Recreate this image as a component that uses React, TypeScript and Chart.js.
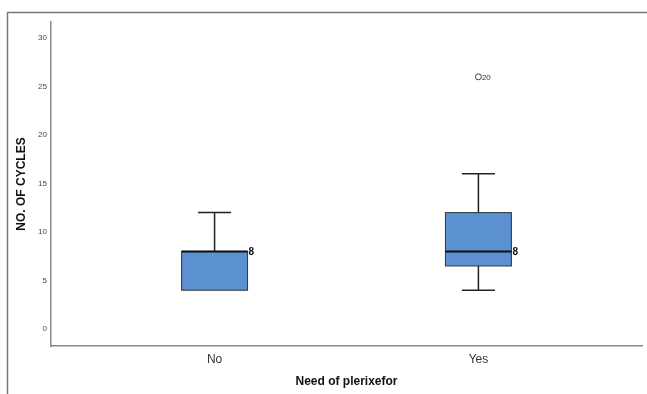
import React, { useEffect, useRef } from 'react';
import { Chart, registerables } from 'chart.js';

Chart.register(...registerables);

const categories = ['No', 'Yes'];
const whiskerLow = [4, 4];
const q1 = [4, 6.5];
const median = [8, 8];
const q3 = [8, 12];
const whiskerHigh = [12, 16];
const medianLabels = ['8', '8'];
const outlierCategory = [1];
const outlierValues = [26];
const outlierLabels = ['20'];
const yTicks = [0, 5, 10, 15, 20, 25, 30];

const FONT = '"Liberation Sans", Arial, sans-serif';

const framePlugin = {
  id: 'frame',
  beforeDraw(chart: any) {
    const ctx = chart.ctx;
    ctx.save();
    ctx.fillStyle = '#ffffff';
    ctx.fillRect(0, 0, chart.width, chart.height);
    ctx.strokeStyle = '#777777';
    ctx.lineWidth = 1.5;
    ctx.beginPath();
    ctx.moveTo(7.5, chart.height);
    ctx.lineTo(7.5, 12.5);
    ctx.lineTo(chart.width, 12.5);
    ctx.stroke();
    ctx.restore();
  },
};

const boxPlugin = {
  id: 'boxes',
  afterDatasetsDraw(chart: any) {
    const ctx = chart.ctx;
    const xs = chart.scales.x;
    const ys = chart.scales.y;
    const spacing = xs.getPixelForValue(1) - xs.getPixelForValue(0);
    const boxW = spacing * 0.25;
    const capW = spacing * 0.125;
    ctx.save();
    categories.forEach((_c, i) => {
      const cx = xs.getPixelForValue(i);
      const yLo = ys.getPixelForValue(whiskerLow[i]);
      const yQ1 = ys.getPixelForValue(q1[i]);
      const yMed = ys.getPixelForValue(median[i]);
      const yQ3 = ys.getPixelForValue(q3[i]);
      const yHi = ys.getPixelForValue(whiskerHigh[i]);
      ctx.strokeStyle = '#222222';
      ctx.lineWidth = 1.5;
      ctx.beginPath();
      if (whiskerHigh[i] > q3[i]) {
        ctx.moveTo(cx, yQ3);
        ctx.lineTo(cx, yHi);
        ctx.moveTo(cx - capW / 2, yHi);
        ctx.lineTo(cx + capW / 2, yHi);
      }
      if (whiskerLow[i] < q1[i]) {
        ctx.moveTo(cx, yQ1);
        ctx.lineTo(cx, yLo);
        ctx.moveTo(cx - capW / 2, yLo);
        ctx.lineTo(cx + capW / 2, yLo);
      }
      ctx.stroke();
      ctx.fillStyle = '#5b90d1';
      ctx.fillRect(cx - boxW / 2, yQ3, boxW, yQ1 - yQ3);
      ctx.lineWidth = 1;
      ctx.strokeStyle = '#333333';
      ctx.strokeRect(cx - boxW / 2, yQ3, boxW, yQ1 - yQ3);
      ctx.lineWidth = 2;
      ctx.strokeStyle = '#111111';
      ctx.beginPath();
      ctx.moveTo(cx - boxW / 2, yMed);
      ctx.lineTo(cx + boxW / 2, yMed);
      ctx.stroke();
      ctx.fillStyle = '#111111';
      ctx.font = 'bold 10px ' + FONT;
      ctx.textAlign = 'left';
      ctx.textBaseline = 'middle';
      ctx.fillText(medianLabels[i], cx + boxW / 2 + 1, yMed + 1);
    });
    const meta = chart.getDatasetMeta(0);
    ctx.font = '8px ' + FONT;
    ctx.fillStyle = '#333333';
    ctx.textAlign = 'left';
    ctx.textBaseline = 'middle';
    meta.data.forEach((pt: any, k: number) => {
      ctx.fillText(outlierLabels[k], pt.x + 3.5, pt.y + 0.5);
    });
    ctx.restore();
  },
};

export default function App() {
  const ref = useRef<HTMLCanvasElement | null>(null);
  useEffect(() => {
    if (!ref.current) return;
    const chart = new Chart(ref.current, {
      type: 'scatter',
      data: {
        datasets: [
          {
            data: outlierValues.map((v, k) => ({ x: outlierCategory[k], y: v })),
            pointRadius: 3,
            pointBorderWidth: 1,
            borderColor: '#444444',
            backgroundColor: '#ffffff',
          },
        ],
      },
      options: {
        responsive: false,
        animation: false,
        events: [],
        layout: { padding: { left: 0, top: 22, right: 5, bottom: 0 } },
        plugins: { legend: { display: false }, tooltip: { enabled: false } },
        scales: {
          x: {
            type: 'linear',
            min: -0.62,
            max: 1.62,
            grid: { display: false, drawTicks: false },
            border: { display: true, color: '#888888', width: 1.5 },
            afterBuildTicks: (s: any) => {
              s.ticks = categories.map((_c, i) => ({ value: i }));
            },
            afterFit: (s: any) => {
              s.height = 48;
            },
            ticks: {
              callback: (v: any) => categories[v] ?? '',
              padding: 6,
              color: '#333333',
              font: { size: 12, family: FONT },
              maxRotation: 0,
            },
            title: {
              display: true,
              text: 'Need of plerixefor',
              color: '#111111',
              font: { size: 12, weight: 'bold', family: FONT },
              padding: { top: 0, bottom: 5 },
            },
          },
          y: {
            type: 'linear',
            min: -1.75,
            max: 31.65,
            grid: { display: false, drawTicks: false },
            border: { display: true, color: '#888888', width: 1.5 },
            afterBuildTicks: (s: any) => {
              s.ticks = yTicks.map((v) => ({ value: v }));
            },
            afterFit: (s: any) => {
              s.width = 51;
            },
            ticks: {
              padding: 4,
              color: '#444444',
              font: { size: 8, family: FONT },
            },
            title: {
              display: true,
              text: 'NO. OF CYCLES',
              color: '#111111',
              font: { size: 12, weight: 'bold', family: FONT },
              padding: { top: 14, bottom: 0 },
            },
          },
        },
      },
      plugins: [framePlugin, boxPlugin],
    } as any);
    return () => chart.destroy();
  }, []);
  return (
    <div style={{ position: 'absolute', left: 0, top: 0, width: 647, height: 394 }}>
      <canvas ref={ref} width={647} height={394} style={{ display: 'block' }} />
    </div>
  );
}
